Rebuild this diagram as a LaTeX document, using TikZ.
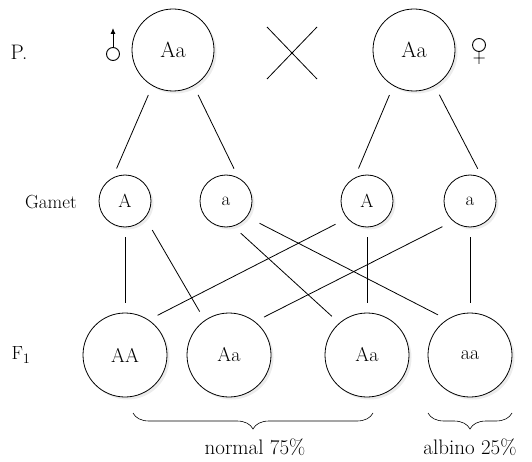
\documentclass[tikz,border=0pt]{standalone}
\usepackage{tikz}
\usetikzlibrary{arrows.meta,shadows,decorations.pathreplacing}

\begin{document}
\begin{tikzpicture}[x=1pt,y=-1pt,
    gncircle/.style={circle,draw=black,fill=white,line width=0.8pt,inner sep=0pt,
        drop shadow={shadow xshift=2.5pt,shadow yshift=-2.5pt,fill=black!15}},
    gnparent/.style={gncircle,minimum size=82pt,font=\fontsize{22}{26}\selectfont},
    gngamete/.style={gncircle,minimum size=52pt,font=\fontsize{19}{23}\selectfont},
    gnchild/.style={gncircle,minimum size=84pt,font=\fontsize{20}{24}\selectfont},
    gnline/.style={draw=black,line width=0.8pt,shorten >=10pt,shorten <=10pt},
    gnlabel/.style={font=\fontsize{19}{23}\selectfont},
    gnbrace/.style={decorate,decoration={brace,mirror,amplitude=16pt},line width=0.6pt}
]
\useasboundingbox (0,0) rectangle (532,462);
% parents
\node[gnparent] (pmale) at (173,50) {Aa};
\node[gnparent] (pfemale) at (414,50) {Aa};
\node[gnlabel,font=\fontsize{21}{25}\selectfont] (plabel) at (19,52) {P.};
\draw[line width=0.8pt] (267,27) -- (317,79) (267,79) -- (317,27);
% sex symbols
\draw[line width=0.9pt] (113,54) circle (6.5);
\draw[line width=0.9pt,-{Latex[length=6pt,width=5pt]}] (113,47.5) -- (113,28);
\draw[line width=0.9pt] (479,45) circle (6.5) (479,51.5) -- (479,64) (473.5,58) -- (484.5,58);
% gametes
\node[gngamete] (gA1) at (125,201) {A};
\node[gngamete] (ga1) at (226,201) {a};
\node[gngamete] (gA2) at (367,201) {A};
\node[gngamete] (ga2) at (470,201) {a};
\node[gnlabel] (glabel) at (51,202) {Gamet};
% offspring
\node[gnchild] (fAA) at (125,355) {AA};
\node[gnchild] (fAa1) at (229,355) {Aa};
\node[gnchild] (fAa2) at (367,355) {Aa};
\node[gnchild] (faa) at (470,355) {aa};
\node[gnlabel] (flabel) at (21,355) {F$_1$};
% parent to gamete
\draw[gnline] (pmale.240) -- (gA1.118);
\draw[gnline] (pmale.300) -- (ga1.62);
\draw[gnline] (pfemale.240) -- (gA2.118);
\draw[gnline] (pfemale.300) -- (ga2.62);
% gamete to offspring
\draw[gnline] (gA1.south) -- (fAA.north);
\draw[gnline,shorten <=14pt] (gA1.320) -- (fAa1.125);
\draw[gnline] (ga1.286) -- (fAa2.131);
\draw[gnline,shorten <=14pt] (ga1.323) -- (faa.123);
\draw[gnline,shorten <=13pt] (gA2.221) -- (fAA.56);
\draw[gnline] (gA2.south) -- (fAa2.north);
\draw[gnline,shorten <=12pt] (ga2.230) -- (fAa1.52);
\draw[gnline] (ga2.south) -- (faa.north);
% braces
\draw[gnbrace] (133,413) -- (373,413);
\draw[gnbrace] (428,413) -- (512,413);
\node[gnlabel,font=\fontsize{21}{25}\selectfont] (normal) at (255,447) {normal 75\%};
\node[gnlabel,font=\fontsize{21}{25}\selectfont] (albino) at (470,447) {albino 25\%};
\end{tikzpicture}
\end{document}
